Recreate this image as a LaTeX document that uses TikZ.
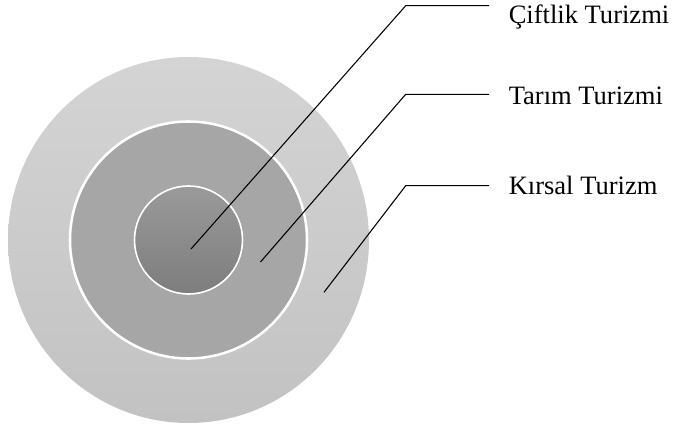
\documentclass[tikz,border=0pt]{standalone}
\usepackage{fontspec}
\setmainfont{Liberation Serif}
\definecolor{outtop}{RGB}{212,212,212}
\definecolor{outbot}{RGB}{194,194,194}
\definecolor{midfill}{RGB}{166,166,166}
\definecolor{intop}{RGB}{154,154,154}
\definecolor{inbot}{RGB}{125,125,125}
\begin{document}
\begin{tikzpicture}[x=0.75pt,y=-0.75pt,
  leader/.style={draw=black,line width=0.8pt,line join=miter},
  lbl/.style={anchor=base west,inner sep=0pt,font=\fontsize{19.9}{24}\selectfont}]
\useasboundingbox (0,0) rectangle (673,427);
\coordinate (ctr) at (188.5,240);
% outer ring
\shade[top color=outtop,bottom color=outbot] (ctr) ellipse[x radius=180.5,y radius=183];
% middle ring
\fill[midfill] (ctr) circle[radius=118.5];
\draw[white,line width=1.9pt] (ctr) circle[radius=118.5];
% inner circle
\shade[top color=intop,bottom color=inbot] (ctr) circle[radius=54];
\draw[white,line width=1.2pt] (ctr) circle[radius=54];
% leader points
\coordinate (a1) at (191,249);
\coordinate (a2) at (405.7,5.7);
\coordinate (a3) at (489,5.7);
\coordinate (b1) at (260.5,262);
\coordinate (b2) at (405.7,94.3);
\coordinate (b3) at (489,94.3);
\coordinate (k1) at (324,292.3);
\coordinate (k2) at (405.7,185.7);
\coordinate (k3) at (489,185.7);
\draw[leader] (a1) -- (a2) -- (a3);
\draw[leader] (b1) -- (b2) -- (b3);
\draw[leader] (k1) -- (k2) -- (k3);
\node[lbl] (t1) at (508.5,24) {Çiftlik Turizmi};
\node[lbl] (t2) at (508.5,104.5) {Tarım Turizmi};
\node[lbl] (t3) at (508.5,195) {Kırsal Turizm};
\end{tikzpicture}
\end{document}
